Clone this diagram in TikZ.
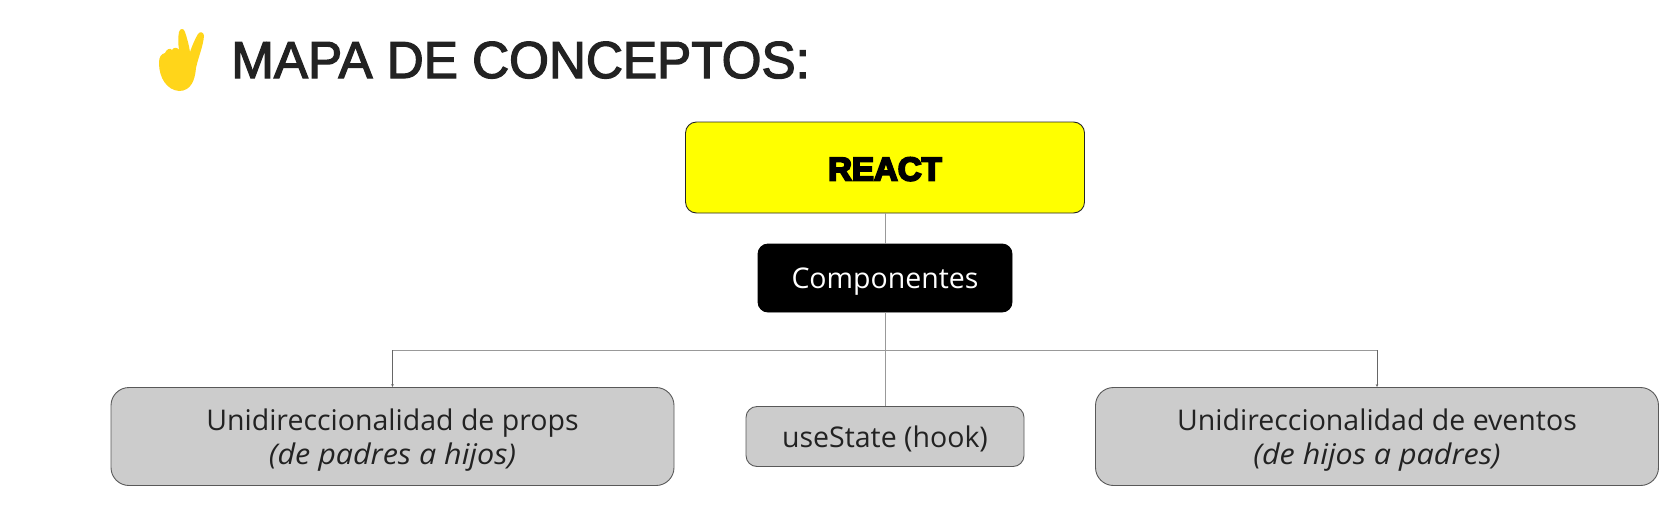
\documentclass[tikz,border=0pt]{standalone}
\usepackage{fontspec}
\usetikzlibrary{arrows.meta}
\setmainfont{Open Sans}
\newfontfamily\titlefont[FakeBold=2.5,FakeStretch=0.985]{Liberation Sans}
\newfontfamily\reactfont[FakeBold=6]{Liberation Sans Bold}
\newfontfamily\notefont[FakeStretch=1.07]{Open Sans Italic}
\definecolor{ink}{HTML}{222222}
\definecolor{boxgray}{HTML}{CCCCCC}
\definecolor{linegray}{HTML}{999999}
\definecolor{handyellow}{HTML}{FFD51A}
\definecolor{reactyellow}{HTML}{FFFF00}
\tikzset{
  x=1pt,y=-1pt,
  boxbase/.style={draw,line width=0.9pt,inner sep=0pt,align=center,anchor=center,font=\fontsize{28.5}{34}\selectfont},
  reactbox/.style={boxbase,draw=black!85,fill=reactyellow,rounded corners=11pt,minimum width=399pt,minimum height=91pt,text height=26pt,text depth=0pt},
  compbox/.style={boxbase,draw=black,fill=black,text=white,rounded corners=10pt,minimum width=254pt,minimum height=68pt,text height=20pt,text depth=0pt},
  graybox/.style={boxbase,draw=black!65,fill=boxgray,text=ink,rounded corners=18pt,minimum width=563pt,minimum height=98pt,text height=55pt,text depth=0pt},
  smallgray/.style={boxbase,draw=black!65,fill=boxgray,text=ink,rounded corners=11pt,minimum width=278pt,minimum height=60pt,text height=22pt,text depth=0pt},
  conn/.style={draw=linegray,line width=1pt},
  drop/.style={draw=black!60,line width=0.7pt},
}
\begin{document}
\begin{tikzpicture}
\useasboundingbox (0,0) rectangle (1680,520);
\fill[white] (0,0) rectangle (1680,520);
% hand
\fill[handyellow] (179,91) .. controls (167,90) and (159,78) .. (159,63)
  .. controls (159,57) and (161,54) .. (165,53)
  .. controls (166,50) and (170,47) .. (172,50)
  .. controls (174,47) and (177,47) .. (179,50)
  .. controls (178,43) and (178,37) .. (179,32)
  .. controls (180,28) and (184,28) .. (185,32)
  .. controls (187,38) and (189,45) .. (190,52)
  .. controls (192,46) and (195,39) .. (198,34)
  .. controls (200,31) and (204,32) .. (204,36)
  .. controls (203,47) and (198,58) .. (196,68)
  .. controls (195,80) and (191,91) .. (179,91) -- cycle;
\node[anchor=base west,inner sep=0pt,text=ink,font=\titlefont\fontsize{52}{52}\selectfont] (title) at (231,78) {MAPA DE CONCEPTOS:};
\node[reactbox] (react) at (885,167.5) {\reactfont\fontsize{33}{33}\selectfont REACT};
\node[compbox] (comp) at (885,278) {Componentes};
\node[graybox] (left) at (392.5,436.5) {Unidireccionalidad de props\\\notefont (de padres a hijos)};
\node[smallgray] (state) at (885,436.5) {useState (hook)};
\node[graybox] (right) at (1377,436.5) {Unidireccionalidad de eventos\\\notefont (de hijos a padres)};
\coordinate (bus) at (885,350);
\draw[conn] (react.south) -- (comp.north);
\draw[conn] (comp.south) -- (state.north);
\draw[conn] (bus -| left.north) -- (bus -| right.north);
\draw[drop,-{Stealth[length=3pt,width=2.5pt]}] (bus -| left.north) -- (left.north);
\draw[drop,-{Stealth[length=3pt,width=2.5pt]}] (bus -| right.north) -- (right.north);
\end{tikzpicture}
\end{document}
